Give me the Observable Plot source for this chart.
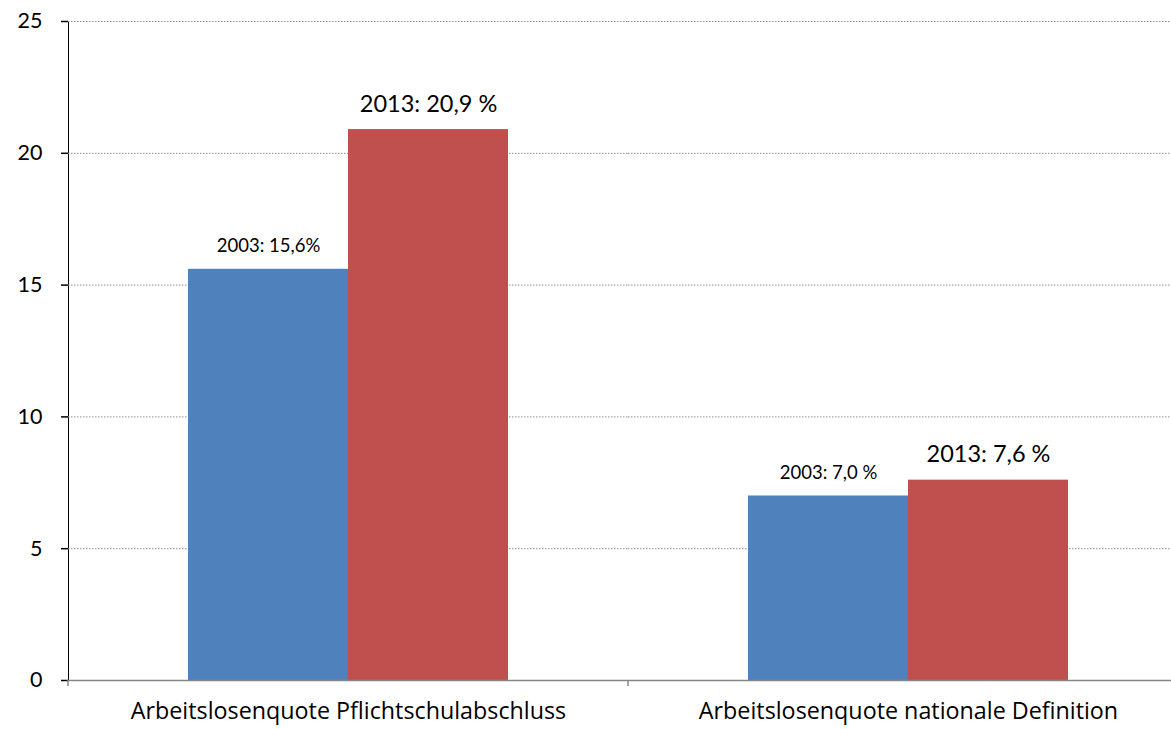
<!DOCTYPE html>
<html>
<head>
<meta charset="utf-8">
<script src="https://cdn.jsdelivr.net/npm/d3@7"></script>
<script src="https://cdn.jsdelivr.net/npm/@observablehq/plot@0.6"></script>
<style>
  html, body { margin: 0; padding: 0; background: #fff; overflow: hidden; }
  #chart svg { overflow: hidden; display: block; }
</style>
</head>
<body>
<div id="chart"></div>
<script>
const categories = ["Arbeitslosenquote Pflichtschulabschluss", "Arbeitslosenquote nationale Definition"];
const years = ["2003", "2013"];
const values2003 = [15.6, 7.0];
const values2013 = [20.9, 7.6];
const labels2003 = ["2003: 15,6%", "2003: 7,0 %"];
const labels2013 = ["2013: 20,9 %", "2013: 7,6 %"];
const yTicks = [0, 5, 10, 15, 20, 25];
const colors = ["#4F81BD", "#C0504D"];

const data = categories.flatMap((c, i) => [
  {category: c, year: years[0], value: values2003[i], label: labels2003[i]},
  {category: c, year: years[1], value: values2013[i], label: labels2013[i]}
]);

const axisGray = "#868686";

const plot = Plot.plot({
  width: 1171,
  height: 729,
  marginLeft: 68,
  marginRight: -17,
  marginTop: 21,
  marginBottom: 49,
  style: {fontFamily: "Lato", background: "white", color: "#000"},
  fx: {domain: categories, padding: 0, label: null, tickSize: 0, tickPadding: 22},
  x: {domain: years, paddingInner: 0, paddingOuter: 0.75, axis: null},
  y: {domain: [0, 25], ticks: yTicks, label: null, tickSize: 7, tickPadding: 19, line: true},
  color: {domain: years, range: colors},
  marks: [
    Plot.ruleY(yTicks.slice(1), {stroke: "#8f8f8f", strokeWidth: 1, strokeDasharray: "1.5,1.5"}),
    Plot.barY(data, {fx: "category", x: "year", y: "value", fill: "year", inset: 0}),
    Plot.text(data.filter(d => d.year === years[0]), {fx: "category", x: "year", y: "value", text: "label", fontSize: 18.5, lineAnchor: "bottom", dy: -17, fill: "#000"}),
    Plot.text(data.filter(d => d.year === years[1]), {fx: "category", x: "year", y: "value", text: "label", fontSize: 23.5, lineAnchor: "bottom", dy: -18, fill: "#000"}),
    Plot.ruleY([0], {stroke: axisGray, strokeWidth: 1.5})
  ]
});

document.getElementById("chart").appendChild(plot);

// style axes and add category boundary ticks via the plot's own scales
const svg = d3.select(plot);
svg.selectAll("[aria-label='y-axis tick'], [aria-label='y-axis line']").attr("stroke", axisGray).attr("stroke-width", 1.5);
svg.selectAll("[aria-label='y-axis tick label']").attr("font-size", 21.5);
svg.selectAll("[aria-label='fx-axis tick label']").attr("font-size", 23.3).attr("font-family", "Open Sans");
const fx = plot.scale("fx");
const y = plot.scale("y");
const y0 = y.apply(0);
const bounds = categories.map(c => fx.apply(c)).concat([fx.apply(categories[categories.length - 1]) + fx.bandwidth]);
svg.append("g").selectAll("line").data(bounds).join("line")
  .attr("x1", d => d).attr("x2", d => d)
  .attr("y1", y0).attr("y2", y0 + 6)
  .attr("stroke", axisGray).attr("stroke-width", 1.5);
</script>
</body>
</html>
